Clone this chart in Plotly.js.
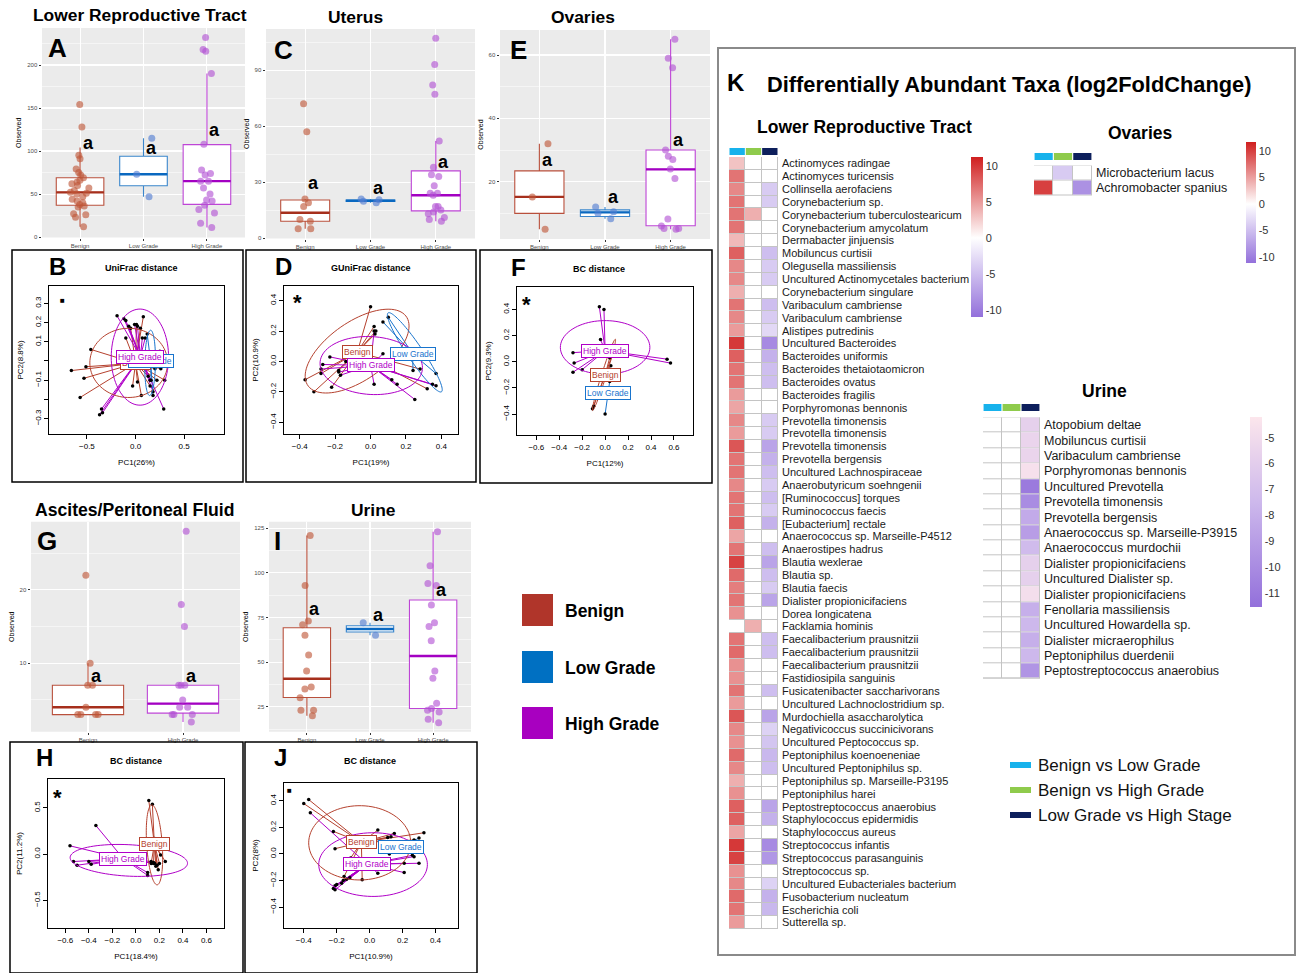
<!DOCTYPE html>
<html><head><meta charset="utf-8">
<script src="https://cdn.plot.ly/plotly-3.0.1.min.js"></script>
<style>html,body{margin:0;padding:0;background:#fff}#chart{width:1298px;height:973px}</style>
</head><body><div id="chart"></div>
<script>
const W=1298,H=973;
const FONT='Liberation Sans, Arial, Helvetica, sans-serif';

/* ---------------- Box plot data (Observed richness) ---------------- */
const cats3=['Benign','Low Grade','High Grade'];
const cats2=['Benign','High Grade'];
// A Lower Reproductive Tract
const A_Benign=[154,128,95,91,79,75,72,69,66,64,62,60,57,54,52,51,50,47,44,42,40,38,36,35,27,26,23,12];
const A_LowGrade=[115,73,47];
const A_HighGrade=[232,218,216,190,108,78,74,72,65,65,57,50,43,42,37,32,28,16,11];
const A_q1=[37,59.6,38], A_median=[52,73,65], A_q3=[69,94,107.5], A_lower=[12,47,11], A_upper=[104,115,190];
const A_letterY=[109.5,103.7,124];
// C Uterus
const C_Benign=[72,57,21,19,17,10,9,5,5];
const C_LowGrade=[21,20.5,19.8,19];
const C_HighGrade=[107,93,82,77,52,38,34,33,28,24,24,23,17,17,15,14,13,11,10,9];
const C_q1=[9,19.6,14.6], C_median=[13.6,20,23], C_q3=[20.4,20.4,36], C_lower=[5,19,9], C_upper=[21,21,52];
const C_letterY=[29.6,26.6,40.9];
// E Ovaries
const E_Benign=[32,15.2,5];
const E_LowGrade=[12,10.5,10,8.3];
const E_HighGrade=[65,59,56,30,28,27,24,21,8.2,6,5.2,5,5.2];
const E_q1=[10,9,6.1], E_median=[15.2,10.3,23.9], E_q3=[23.4,11.1,30], E_lower=[5,8.3,5], E_upper=[32,12,65];
const E_letterY=[27,15.2,33.1];
// G Ascites / Peritoneal Fluid
const G_Benign=[22,10,7,7,4,3,3,3,3];
const G_HighGrade=[28,18,15,7,7,7,5,4,4,3,3,3,2];
const G_q1=[3,3.2], G_median=[4,4.5], G_q3=[7,7], G_lower=[3,2], G_upper=[10,7];
const G_letterY=[8.3,8.3];
// I Urine
const I_Benign=[121,93,73,71,65,54,45,36,35,30,23,23,20];
const I_LowGrade=[72,65];
const I_HighGrade=[123,104,94,93,82,72,70,62,45,41,27,24,23,22,18,16];
const I_q1=[30.2,66.9,24], I_median=[40.7,68.6,53.4], I_q3=[69.3,70.4,84.8], I_lower=[20,65,16], I_upper=[121,72,123];
const I_letterY=[79.6,76.4,90.4];

/* ---------------- PCoA data ---------------- */
// B UniFrac
const B_Benign_PC1=[-0.66,-0.51,-0.46,-0.53,-0.57,0.08,0.05,0.01,-0.05,0.06,0.02,-0.03,0.15,0.22,0.30,0.26,0.20,0.25,-0.10,0.13];
const B_Benign_PC2=[-0.05,-0.03,0.06,-0.09,-0.19,0.23,0.17,0.19,0.17,-0.18,-0.11,-0.13,-0.13,-0.10,-0.10,-0.04,-0.04,0.05,0.12,-0.08];
const B_Low_PC1=[0.12,0.18,0.16,0.14];
const B_Low_PC2=[0.14,-0.18,-0.10,-0.02];
const B_High_PC1=[-0.19,-0.12,-0.10,-0.07,-0.01,0.02,0.07,0.10,-0.35,-0.37,-0.34,0.29,0.18,0.15,0.11];
const B_High_PC2=[0.235,0.22,0.21,0.18,0.19,0.18,0.12,0.12,-0.25,-0.28,-0.27,-0.25,-0.16,-0.10,-0.02];
const B_center_PC1=[0.0,0.155,0.05], B_center_PC2=[-0.012,0.0,0.022];
const B_ellipses=[[-0.07,-0.01,0.40,0.18,0],[0.15,-0.01,0.17,0.055,88],[0.045,0.02,0.295,0.25,0]];
// D GUniFrac
const D_Benign_PC1=[-0.37,-0.32,-0.28,-0.22,-0.18,0.0,0.02,0.03,0.025,0.28,0.32];
const D_Benign_PC2=[-0.12,-0.20,-0.08,-0.17,-0.06,0.36,0.23,0.20,0.18,-0.05,-0.18];
const D_Low_PC1=[0.10,0.24,0.37,0.07];
const D_Low_PC2=[0.29,-0.06,-0.08,0.26];
const D_High_PC1=[-0.23,-0.28,-0.27,-0.18,-0.14,0.02,0.07,0.12,0.15,0.25,0.35,0.37,0.02,0.05,-0.17];
const D_High_PC2=[0.03,-0.05,-0.02,-0.07,0.0,0.20,0.05,-0.12,-0.15,-0.25,-0.15,-0.16,-0.15,0.0,-0.09];
const D_center_PC1=[-0.075,0.237,0.0], D_center_PC2=[0.061,0.052,-0.026];
const D_ellipses=[[-0.076,0.068,0.36,0.18,42],[0.25,0.06,0.30,0.045,-60],[0.004,-0.027,0.29,0.19,-5]];
// F BC (ovaries)
const F_Benign_PC1=[-0.10,-0.11,0.04,0.05,0.07];
const F_Benign_PC2=[-0.34,-0.36,0.03,-0.03,0.07];
const F_Low_PC1=[0.0,0.04];
const F_Low_PC2=[-0.40,-0.15];
const F_High_PC1=[-0.05,-0.01,-0.04,-0.28,-0.27,-0.28,-0.20,0.54,0.57];
const F_High_PC2=[0.42,0.40,0.17,0.07,-0.01,-0.08,-0.06,0.02,-0.01];
const F_center_PC1=[0.0,0.026,0.0], F_center_PC2=[-0.10,-0.24,0.085];
const F_ellipses=[[-0.01,-0.10,0.29,0.02,70],null,[0.0,0.11,0.39,0.205,0]];
// H BC (ascites)
const H_Benign_PC1=[0.11,0.14,0.16,0.20,0.13,0.15,0.18,0.20,0.25,0.19,0.17,0.21];
const H_Benign_PC2=[0.58,0.54,0.17,0.16,-0.10,-0.09,-0.12,-0.10,-0.08,-0.17,-0.13,-0.01];
const H_High_PC1=[-0.34,-0.56,-0.53,-0.50,-0.40,-0.38,0.10,0.10,0.13,0.15,0.16];
const H_High_PC2=[0.31,0.09,-0.08,-0.12,-0.08,-0.11,-0.23,-0.20,-0.08,-0.10,-0.10];
const H_center_PC1=[0.157,-0.106], H_center_PC2=[0.11,-0.05];
const H_ellipses=[[0.158,0.10,0.433,0.066,93],[-0.06,-0.068,0.50,0.17,-4]];
// J BC (urine)
const J_Benign_PC1=[-0.37,-0.40,-0.22,-0.21,-0.115,-0.045,-0.155,0.05,0.13,0.15,0.33,0.11,0.27];
const J_Benign_PC2=[0.41,0.38,0.17,0.04,-0.03,-0.195,-0.17,0.18,0.13,0.155,0.16,0.125,0.105];
const J_Low_PC1=[0.27,0.30,0.12];
const J_Low_PC2=[0.10,0.12,0.0];
const J_High_PC1=[-0.36,-0.21,-0.22,-0.20,-0.17,-0.14,-0.12,-0.21,-0.16,0.27,0.30,0.21,0.21,0.05,0.26];
const J_High_PC2=[0.31,-0.24,-0.26,-0.23,-0.22,-0.19,-0.18,-0.27,-0.20,-0.02,-0.07,-0.07,-0.14,-0.145,-0.01];
const J_center_PC1=[-0.05,0.19,-0.013], J_center_PC2=[0.0875,0.05,-0.078];
const J_ellipses=[[-0.06,0.084,0.31,0.28,0],null,[0.021,-0.08,0.33,0.24,0]];

/* ---------------- Heatmap data (log2FoldChange) ---------------- */
const comparisons=['Benign vs Low Grade','Benign vs High Grade','Low Grade vs High Stage'];
const LRT_taxa=["Actinomyces radingae","Actinomyces turicensis","Collinsella aerofaciens","Corynebacterium sp.","Corynebacterium tuberculostearicum","Corynebacterium amycolatum","Dermabacter jinjuensis","Mobiluncus curtisii","Olegusella massiliensis","Uncultured Actinomycetales bacterium","Corynebacterium singulare","Varibaculum cambriense","Varibaculum cambriense","Alistipes putredinis","Uncultured Bacteroides","Bacteroides uniformis","Bacteroides thetaiotaomicron","Bacteroides ovatus","Bacteroides fragilis","Porphyromonas bennonis","Prevotella timonensis","Prevotella timonensis","Prevotella timonensis","Prevotella bergensis","Uncultured Lachnospiraceae","Anaerobutyricum soehngenii","[Ruminococcus] torques","Ruminococcus faecis","[Eubacterium] rectale","Anaerococcus sp. Marseille-P4512","Anaerostipes hadrus","Blautia wexlerae","Blautia sp.","Blautia faecis","Dialister propionicifaciens","Dorea longicatena","Facklamia hominis","Faecalibacterium prausnitzii","Faecalibacterium prausnitzii","Faecalibacterium prausnitzii","Fastidiosipila sanguinis","Fusicatenibacter saccharivorans","Uncultured Lachnoclostridium sp.","Murdochiella asaccharolytica","Negativicoccus succinicivorans","Uncultured Peptococcus sp.","Peptoniphilus koenoeneniae","Uncultured Peptoniphilus sp.","Peptoniphilus sp. Marseille-P3195","Peptoniphilus harei","Peptostreptococcus anaerobius","Staphylococcus epidermidis","Staphylococcus aureus","Streptococcus infantis","Streptococcus parasanguinis","Streptococcus sp.","Uncultured Eubacteriales bacterium","Fusobacterium nucleatum","Escherichia coli","Sutterella sp."];
const LRT_BenignVsLow=[3,7,6,7,7,7,3.5,8,6,6, 4,7,6,5,10,8,7,7,5,4.5, 6,5,8.5,7,7,6,7,7,8,4.5, 7,9.5,7.5,6.5,7,5.5,null,7,7.5,5.5, 5.5,7,5,8.5,6,5.5,7.5,6,4,5.5, 8,8,4.5,10,9.5,5.5,6,7.5,7,5];
const LRT_BenignVsHigh=[null,null,null,null,4,null,null,null,null,null, null,null,null,null,null,null,null,null,null,null, null,null,null,null,null,null,null,null,null,null, null,null,null,null,null,null,4,null,null,null, null,null,null,null,null,null,null,null,null,null, null,null,null,null,null,null,null,null,null,null];
const LRT_LowVsHigh=[null,null,-4,-4,null,null,null,-5,-4,-4, null,-5,-4,-3,-9,-6,-5,-5,null,null, -4,-4,-7,-6,-5,-4,-5,-4,-6,null, -5,-7,-5,-4,-7,null,null,-5,-5,null, null,-5,null,-7,-3.5,-4.5,-5.5,-5,null,null, -7,-6,null,-9,-8,null,-3.5,-6,-5.5,null];
const OV_taxa=["Microbacterium lacus","Achromobacter spanius"];
const OV_BenignVsLow=[null,10];
const OV_BenignVsHigh=[-4,null];
const OV_LowVsHigh=[null,-8.5];
const UR_taxa=["Atopobium deltae","Mobiluncus curtisii","Varibaculum cambriense","Porphyromonas bennonis","Uncultured Prevotella","Prevotella timonensis","Prevotella bergensis","Anaerococcus sp. Marseille-P3915","Anaerococcus murdochii","Dialister propionicifaciens","Uncultured Dialister sp.","Dialister propionicifaciens","Fenollaria massiliensis","Uncultured Howardella sp.","Dialister micraerophilus","Peptoniphilus duerdenii","Peptostreptococcus anaerobius"];
const UR_BenignVsLow=UR_taxa.map(()=>null);
const UR_BenignVsHigh=UR_taxa.map(()=>null);
const UR_LowVsHigh=[-5.8,-5.5,-5.5,-4.6,-11,-10,-8.3,-9,-7.3,-5.8,-5.8,-4.8,-8,-7.5,-8,-7.5,-9.5];

/* ---------------- styles ---------------- */
const boxLine={'Benign':'#B9503C','Low Grade':'#3A86CC','High Grade':'#BE45D6'};
const medCol={'Benign':'#A62F1C','Low Grade':'#0A68C0','High Grade':'#A300C2'};
const ptCol={'Benign':'rgba(190,85,55,0.62)','Low Grade':'rgba(80,125,210,0.62)','High Grade':'rgba(178,80,212,0.62)'};
const pcCol={'Benign':'#B5412E','Low Grade':'#1874CD','High Grade':'#B000C8'};
const compCol=['#17B2EC','#8FCB4C','#0D1F5C'];

const data=[],annotations=[],shapes=[];
const layout={width:W,height:H,margin:{l:0,r:0,t:0,b:0},paper_bgcolor:'white',plot_bgcolor:'white',
  showlegend:false,hovermode:false,boxmode:'overlay',font:{family:FONT,color:'#000'}};
let nAx=0;
function newAxes(x0,x1,y0,y1,xo,yo){
  nAx++; const s=nAx===1?'':String(nAx);
  layout['xaxis'+s]=Object.assign({domain:[x0/W,x1/W],anchor:'y'+s,fixedrange:true},xo);
  layout['yaxis'+s]=Object.assign({domain:[1-y1/H,1-y0/H],anchor:'x'+s,fixedrange:true},yo);
  return {x:'x'+s,y:'y'+s};
}
function txt(px,py,text,size,o){
  annotations.push(Object.assign({xref:'paper',yref:'paper',x:px/W,y:1-py/H,text:text,showarrow:false,
    font:{size:size,family:FONT,color:'#000'},xanchor:'center',yanchor:'middle'},o||{}));
}
function rectPx(x0,y0,x1,y1,o){
  shapes.push(Object.assign({type:'rect',xref:'paper',yref:'paper',x0:x0/W,x1:x1/W,y0:1-y1/H,y1:1-y0/H,line:{width:0}},o));
}

/* ---------------- box panels ---------------- */
function boxPanel(px,cats,pts,q1,med,q3,lo,hi,letterY,yr,dtick){
  const tf={size:6,color:'#4d4d4d',family:FONT};
  const ax=newAxes(px[0],px[1],px[2],px[3],
    {type:'category',categoryorder:'array',categoryarray:cats,range:[-0.6,cats.length-0.4],showgrid:true,gridcolor:'white',gridwidth:1.1,
     ticks:'outside',ticklen:2,tickcolor:'#333',tickfont:tf,zeroline:false,showline:false,ticklabelstandoff:0},
    {range:yr,tick0:0,dtick:dtick,showgrid:true,gridcolor:'white',gridwidth:1.1,
     minor:{tick0:0,dtick:dtick/2,showgrid:true,gridcolor:'white',gridwidth:0.5},
     ticks:'outside',ticklen:2.5,tickcolor:'#333',tickfont:tf,zeroline:false,showline:false,
     title:{text:'Observed',font:{size:7,color:'#000',family:FONT},standoff:4}});
  shapes.push({type:'rect',xref:ax.x+' domain',yref:ax.y+' domain',x0:0,x1:1,y0:0,y1:1,fillcolor:'#EBEBEB',line:{width:0},layer:'below'});
  cats.forEach((c,i)=>{
    data.push({type:'box',x:[c],q1:[q1[i]],median:[med[i]],q3:[q3[i]],lowerfence:[lo[i]],upperfence:[hi[i]],
      xaxis:ax.x,yaxis:ax.y,width:0.75,whiskerwidth:0,fillcolor:'white',line:{color:boxLine[c],width:1.1},boxpoints:false,hoverinfo:'skip'});
    data.push({type:'box',x:[c],q1:[med[i]],median:[med[i]],q3:[med[i]],lowerfence:[med[i]],upperfence:[med[i]],
      xaxis:ax.x,yaxis:ax.y,width:0.75,whiskerwidth:0,fillcolor:'rgba(0,0,0,0)',line:{color:medCol[c],width:2.4},boxpoints:false,hoverinfo:'skip'});
    data.push({type:'box',y:pts[i],x:pts[i].map(()=>c),xaxis:ax.x,yaxis:ax.y,width:0.75,boxpoints:'all',jitter:0.45,pointpos:0,
      fillcolor:'rgba(0,0,0,0)',line:{width:0,color:'rgba(0,0,0,0)'},marker:{color:ptCol[c],size:7,line:{width:0}},hoverinfo:'skip'});
    annotations.push({xref:ax.x,yref:ax.y,x:c,y:letterY[i],text:'<b>a</b>',showarrow:false,xshift:8,
      font:{size:18,family:FONT,color:'#000'},xanchor:'center',yanchor:'middle'});
  });
  return ax;
}
boxPanel([42,245,28,237.5],cats3,[A_Benign,A_LowGrade,A_HighGrade],A_q1,A_median,A_q3,A_lower,A_upper,A_letterY,[-0.5,243],50);
boxPanel([266,475,29,238.5],cats3,[C_Benign,C_LowGrade,C_HighGrade],C_q1,C_median,C_q3,C_lower,C_upper,C_letterY,[-0.2,112],30);
boxPanel([500,710,30,239],cats3,[E_Benign,E_LowGrade,E_HighGrade],E_q1,E_median,E_q3,E_lower,E_upper,E_letterY,[1.9,67.9],20);
boxPanel([31,240,521.7,731.7],cats2,[G_Benign,G_HighGrade],G_q1,G_median,G_q3,G_lower,G_upper,G_letterY,[0.67,29.3],10);
boxPanel([269,471,521.7,731.7],cats3,[I_Benign,I_LowGrade,I_HighGrade],I_q1,I_median,I_q3,I_lower,I_upper,I_letterY,[11,128.7],25);

txt(140,15,'<b>Lower Reproductive Tract</b>',17.4);
txt(355,17,'<b>Uterus</b>',17.4);
txt(583,17,'<b>Ovaries</b>',17.4);
txt(134,510,'<b>Ascites/Peritoneal Fluid</b>',17.6);
txt(373,510,'<b>Urine</b>',17.4);
txt(58,48,'<b>A</b>',26); txt(283,50,'<b>C</b>',26); txt(518,50,'<b>E</b>',26);
txt(47,541,'<b>G</b>',26); txt(277,541,'<b>I</b>',26);

/* ---------------- PCoA panels ---------------- */
function ellipsePath(e){
  const [cx,cy,a,b,deg]=e; const t=deg*Math.PI/180; let d='';
  for(let k=0;k<=90;k++){const u=2*Math.PI*k/90;
    const x=cx+a*Math.cos(u)*Math.cos(t)-b*Math.sin(u)*Math.sin(t);
    const y=cy+a*Math.cos(u)*Math.sin(t)+b*Math.sin(u)*Math.cos(t);
    d+=(k?'L':'M')+x.toFixed(5)+','+y.toFixed(5);}
  return d+'Z';
}
function pcoaPanel(px,xr,yr,xt,yt,ytText,xtitle,ytitle,names,pc1s,pc2s,cx,cy,ells){
  const tf={size:8,color:'#000',family:FONT};
  const ax=newAxes(px[0],px[1],px[2],px[3],
    {range:xr,tickvals:xt,tickformat:'.1f',showgrid:false,zeroline:false,showline:true,mirror:true,linecolor:'#000',linewidth:1,
     ticks:'outside',ticklen:4,tickcolor:'#000',tickfont:tf,title:{text:xtitle,font:{size:8,color:'#000',family:FONT},standoff:9}},
    {range:yr,tickvals:yt,ticktext:ytText,showgrid:false,zeroline:false,showline:true,mirror:true,linecolor:'#000',linewidth:1,
     ticks:'outside',ticklen:4,tickcolor:'#000',tickfont:tf,tickangle:-90,title:{text:ytitle,font:{size:8,color:'#000',family:FONT},standoff:8}});
  names.forEach((g,i)=>{
    const lx=[],ly=[];
    pc1s[i].forEach((v,k)=>{lx.push(cx[i],v,null);ly.push(cy[i],pc2s[i][k],null);});
    data.push({type:'scatter',mode:'lines',x:lx,y:ly,xaxis:ax.x,yaxis:ax.y,line:{color:pcCol[g],width:1},hoverinfo:'skip'});
    if(ells[i]) shapes.push({type:'path',xref:ax.x,yref:ax.y,path:ellipsePath(ells[i]),line:{color:pcCol[g],width:1},fillcolor:'rgba(0,0,0,0)'});
  });
  names.forEach((g,i)=>{
    data.push({type:'scatter',mode:'markers',x:pc1s[i],y:pc2s[i],xaxis:ax.x,yaxis:ax.y,marker:{color:'#000',size:3.5},hoverinfo:'skip'});
  });
  names.forEach((g,i)=>{
    annotations.push({xref:ax.x,yref:ax.y,x:cx[i],y:cy[i],text:g,showarrow:false,font:{size:8.5,color:pcCol[g],family:FONT},
      bgcolor:'white',bordercolor:pcCol[g],borderwidth:1,borderpad:1,xanchor:'center',yanchor:'middle'});
  });
  return ax;
}
const G3=['Benign','Low Grade','High Grade'], G2=['Benign','High Grade'];
pcoaPanel([49,224,286,434],[-0.89,0.91],[-0.38,0.39],[-0.5,0,0.5],[-0.3,-0.2,-0.1,0,0.1,0.2,0.3],['\u22120.3','','\u22120.1','','0.1','0.2','0.3'],
  'PC1(26%)','PC2(8.8%)',G3,[B_Benign_PC1,B_Low_PC1,B_High_PC1],[B_Benign_PC2,B_Low_PC2,B_High_PC2],B_center_PC1,B_center_PC2,B_ellipses);
pcoaPanel([284,458,286,434],[-0.489,0.494],[-0.477,0.496],[-0.4,-0.2,0,0.2,0.4],[-0.4,-0.2,0,0.2,0.4],['\u22120.4','\u22120.2','0.0','0.2','0.4'],
  'PC1(19%)','PC2(10.9%)',G3,[D_Benign_PC1,D_Low_PC1,D_High_PC1],[D_Benign_PC2,D_Low_PC2,D_High_PC2],D_center_PC1,D_center_PC2,D_ellipses);
pcoaPanel([517,693,287,435],[-0.768,0.766],[-0.56,0.572],[-0.6,-0.4,-0.2,0,0.2,0.4,0.6],[-0.4,-0.2,0,0.2,0.4],['\u22120.4','\u22120.2','0.0','0.2','0.4'],
  'PC1(12%)','PC2(9.3%)',G3,[F_Benign_PC1,F_Low_PC1,F_High_PC1],[F_Benign_PC2,F_Low_PC2,F_High_PC2],F_center_PC1,F_center_PC2,F_ellipses);
pcoaPanel([48,224,779,928],[-0.747,0.749],[-0.8,0.814],[-0.6,-0.4,-0.2,0,0.2,0.4,0.6],[-0.5,0,0.5],['\u22120.5','0.0','0.5'],
  'PC1(18.4%)','PC2(11.2%)',G2,[H_Benign_PC1,H_High_PC1],[H_Benign_PC2,H_High_PC2],H_center_PC1,H_center_PC2,H_ellipses);
pcoaPanel([284,458,783,928],[-0.52,0.537],[-0.558,0.535],[-0.4,-0.2,0,0.2,0.4],[-0.4,-0.2,0,0.2,0.4],['\u22120.4','\u22120.2','0.0','0.2','0.4'],
  'PC1(10.9%)','PC2(8%)',G3,[J_Benign_PC1,J_Low_PC1,J_High_PC1],[J_Benign_PC2,J_Low_PC2,J_High_PC2],J_center_PC1,J_center_PC2,J_ellipses);

// panel frames
[[12,250,243,482],[246,250,476,482],[480,250,712,483],[10,742,243,973],[245,742,477,973]].forEach(b=>
  rectPx(b[0],b[1],b[2],b[3],{line:{color:'#000',width:1.5},fillcolor:'rgba(0,0,0,0)'}));
txt(58,266,'<b>B</b>',24); txt(141,268,'<b>UniFrac distance</b>',9);
txt(283,266,'<b>D</b>',24); txt(371,268,'<b>GUniFrac distance</b>',9);
txt(518,268,'<b>F</b>',24); txt(599,269,'<b>BC distance</b>',9);
txt(45,757,'<b>H</b>',24); txt(136,761,'<b>BC distance</b>',9);
txt(280,757,'<b>J</b>',24); txt(370,761,'<b>BC distance</b>',9);
txt(62,300,'\u25A0',8); txt(289,790,'\u25A0',8);
txt(297,302,'<b>*</b>',22); txt(526,304,'<b>*</b>',22); txt(57,797,'<b>*</b>',22);

/* ---------------- group legend ---------------- */
[['Benign','#B0352A',610],['Low Grade','#0070C2',667],['High Grade','#A800C0',723]].forEach(r=>{
  rectPx(522,r[2]-16,553,r[2]+16,{fillcolor:r[1]});
  txt(563,r[2]+1,'<b>'+r[0]+'</b>',17.5,{xanchor:'left'});
});

/* ---------------- heatmaps ---------------- */
rectPx(718,48,1295,955,{line:{color:'#8a8a8a',width:2},fillcolor:'rgba(0,0,0,0)'});
txt(736,83,'<b>K</b>',24);
txt(765,84,'<b>Differentially Abundant Taxa (log2FoldChange)</b>',21.8,{xanchor:'left'});

function heatPanel(px,taxa,cols,cs,zmin,zmax,cbar,fs,barY){
  const n=taxa.length;
  const ax=newAxes(px[0],px[1],px[2],px[3],
    {range:[-0.5,2.5],showgrid:false,zeroline:false,showticklabels:false,ticks:''},
    {range:[n-0.5,-0.5],side:'right',tickvals:taxa.map((t,i)=>i),ticktext:taxa,ticks:'',ticklabelstandoff:3,showgrid:false,zeroline:false,
     tickfont:{size:fs,color:'#1a1a1a',family:FONT}});
  shapes.push({type:'rect',xref:ax.x+' domain',yref:ax.y+' domain',x0:0,x1:1,y0:0,y1:1,fillcolor:'#C4C4C4',line:{width:0},layer:'below'});
  const z=taxa.map((t,i)=>cols.map(c=>c[i]));
  const zb=taxa.map(()=>[0,0,0]);
  data.push({type:'heatmap',z:zb,x:[0,1,2],y:taxa.map((t,i)=>i),xaxis:ax.x,yaxis:ax.y,colorscale:[[0,'#fff'],[1,'#fff']],showscale:false,xgap:1,ygap:1,hoverinfo:'skip'});
  data.push({type:'heatmap',z:z,x:[0,1,2],y:taxa.map((t,i)=>i),xaxis:ax.x,yaxis:ax.y,colorscale:cs,zmin:zmin,zmax:zmax,xgap:1,ygap:1,hoverinfo:'skip',
    showscale:true,colorbar:Object.assign({xanchor:'left',yanchor:'top',lenmode:'pixels',thicknessmode:'pixels',outlinewidth:0,ticks:'',xpad:0,ypad:0,
      tickfont:{size:11,color:'#333',family:FONT}},cbar)});
  compCol.forEach((c,i)=>shapes.push({type:'rect',xref:ax.x,yref:'paper',x0:i-0.47,x1:i+0.47,y0:1-(barY+7)/H,y1:1-barY/H,fillcolor:c,line:{width:0}}));
  return ax;
}
const divScale=(wpos)=>[[0,'#9370DB'],[wpos,'#FFFFFF'],[1,'#D01F1F']];
heatPanel([729,778,157,929],LRT_taxa,[LRT_BenignVsLow,LRT_BenignVsHigh,LRT_LowVsHigh],divScale(11/22.25),-11,11.25,
  {x:971/W,y:1-157/H,len:160,thickness:12,tickvals:[10,5,0,-5,-10],ticktext:['10','5','0','-5','-10']},11,148);
heatPanel([1034,1092,165.5,195.5],OV_taxa,[OV_BenignVsLow,OV_BenignVsHigh,OV_LowVsHigh],divScale(11.1/22.8),-11.1,11.7,
  {x:1246/W,y:1-142/H,len:121,thickness:10,tickvals:[10,5,0,-5,-10],ticktext:['10','5','0','-5','-10']},12.5,153);
heatPanel([983,1040,417.3,678.7],UR_taxa,[UR_BenignVsLow,UR_BenignVsHigh,UR_LowVsHigh],[[0,'#9370DB'],[0.55,'#CDB8EC'],[1,'#FCE6EC']],-11.55,-4.2,
  {x:1250/W,y:1-417/H,len:190,thickness:12,tickvals:[-5,-6,-7,-8,-9,-10,-11],ticktext:['-5','-6','-7','-8','-9','-10','-11']},12.5,404);

txt(864,127,'<b>Lower Reproductive Tract</b>',17.5);
txt(1140,133,'<b>Ovaries</b>',17.5);
txt(1104,391,'<b>Urine</b>',17.5);
comparisons.forEach((c,i)=>{
  const y=765+25*i;
  rectPx(1010,y-3,1031,y+3,{fillcolor:compCol[i]});
  txt(1036,y,c,17,{xanchor:'left',font:{size:17,family:FONT,color:'#111'}});
});

layout.annotations=annotations; layout.shapes=shapes;
Plotly.newPlot('chart',data,layout,{displayModeBar:false,staticPlot:true});
</script></body></html>
